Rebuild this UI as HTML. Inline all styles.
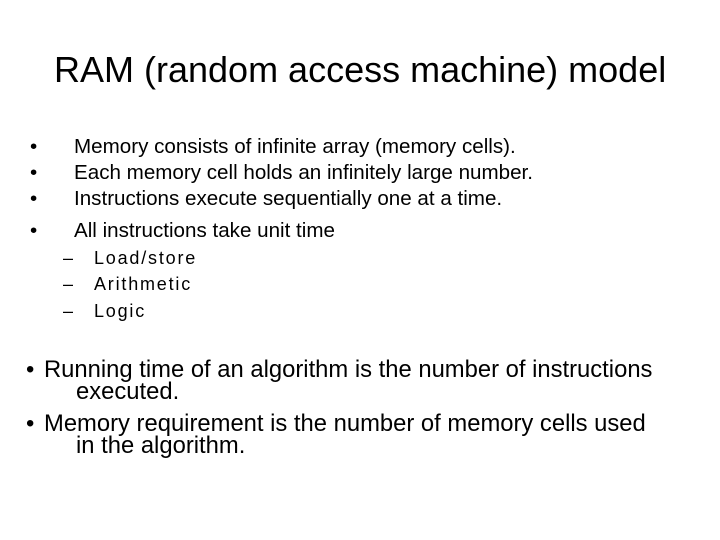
<!DOCTYPE html>
<html><head><style>
body{margin:0;width:720px;height:540px;background:#fff;font-family:"Liberation Sans",sans-serif;color:#000;position:relative;overflow:hidden}
.t{position:absolute;white-space:nowrap}
.b{font-size:20.6px;line-height:24px}
.s{font-size:18px;letter-spacing:1.8px;line-height:22px}
.m{font-size:23.8px;line-height:22px}
</style></head><body>
<div class="t" style="left:54px;top:49px;font-size:36px">RAM (random access machine) model</div>

<div class="t b" style="left:30px;top:135px">•</div>
<div class="t b" style="left:74px;top:135px">Memory consists of infinite array (memory cells).</div>
<div class="t b" style="left:30px;top:161px">•</div>
<div class="t b" style="left:74px;top:161px">Each memory cell holds an infinitely large number.</div>
<div class="t b" style="left:30px;top:187px">•</div>
<div class="t b" style="left:74px;top:187px">Instructions execute sequentially one at a time.</div>
<div class="t b" style="left:30px;top:219px">•</div>
<div class="t b" style="left:74px;top:219px">All instructions take unit time</div>

<div class="t s" style="left:63px;top:247px">–</div>
<div class="t s" style="left:94px;top:247px">Load/store</div>
<div class="t s" style="left:63px;top:273px">–</div>
<div class="t s" style="left:94px;top:273px">Arithmetic</div>
<div class="t s" style="left:63px;top:300px">–</div>
<div class="t s" style="left:94px;top:300px">Logic</div>

<div class="t m" style="left:26px;top:359px">•</div>
<div class="t m" style="left:44px;top:359px">Running time of an algorithm is the number of instructions</div>
<div class="t m" style="left:76px;top:381px">executed.</div>
<div class="t m" style="left:26px;top:413px">•</div>
<div class="t m" style="left:44px;top:413px">Memory requirement is the number of memory cells used</div>
<div class="t m" style="left:76px;top:435px">in the algorithm.</div>
</body></html>
